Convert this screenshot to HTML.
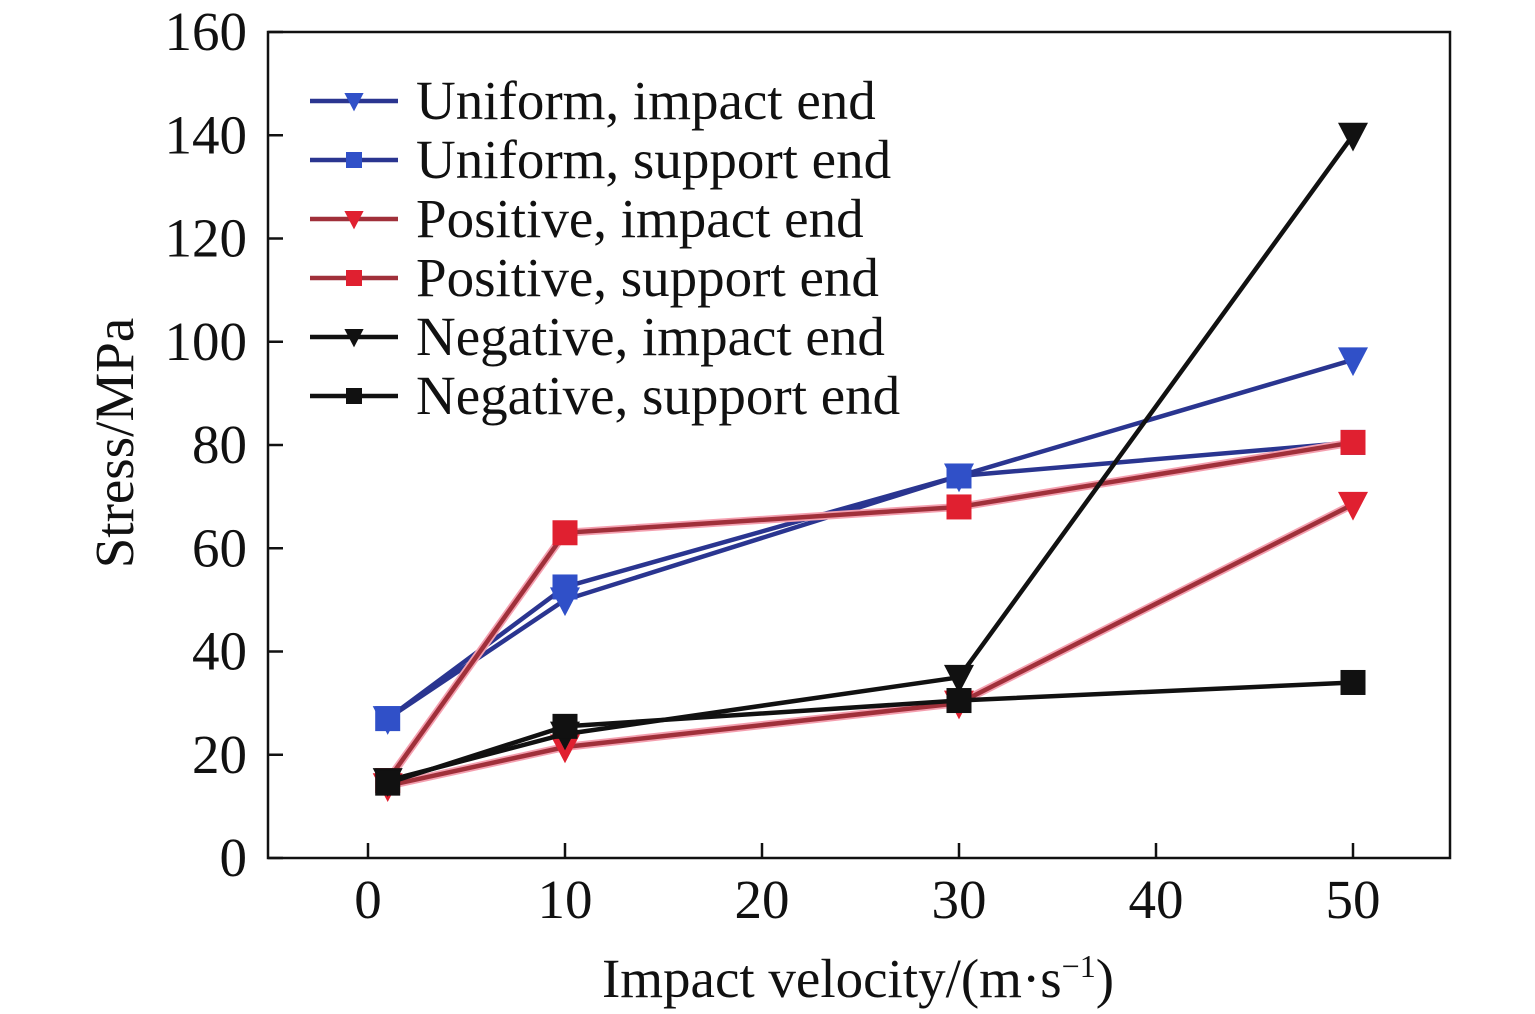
<!DOCTYPE html>
<html><head><meta charset="utf-8"><style>
html,body{margin:0;padding:0;background:#fff;}
svg{display:block;font-family:"Liberation Serif",serif;}
</style></head><body>
<svg id="chart" width="1535" height="1014" viewBox="0 0 1535 1014" xmlns="http://www.w3.org/2000/svg">
<g id="axes"></g><g id="series"></g><g id="legend"></g>
</svg>
<script>
const xCats = [1, 10, 30, 50];
const uniformImpact = [27, 50, 74, 96.5];
const uniformSupport = [27, 52.5, 74, 80.5];
const positiveImpact = [14, 21.5, 30, 68.5];
const positiveSupport = [15, 63, 68, 80.5];
const negativeImpact = [15, 24, 35, 140];
const negativeSupport = [14.5, 25.5, 30.5, 34];
const xTicks = [0, 10, 20, 30, 40, 50];
const yTicks = [0, 20, 40, 60, 80, 100, 120, 140, 160];
const seriesNames = ["Uniform, impact end","Uniform, support end","Positive, impact end","Positive, support end","Negative, impact end","Negative, support end"];

const L=268,R=1450,T=32,B=858;
const xS=v=>368+v*19.7;
const yS=v=>B-(v/160)*(B-T);
const NS="http://www.w3.org/2000/svg";
function mk(tag,attrs,parent){const e=document.createElementNS(NS,tag);for(const k in attrs)e.setAttribute(k,attrs[k]);parent.appendChild(e);return e;}
const axes=document.getElementById('axes');
let frame=mk('rect',{x:L,y:T,width:R-L,height:B-T,fill:'none',stroke:'#111','stroke-width':2.5},axes);


xTicks.forEach(v=>{
  const t=mk('line',{x1:xS(v),x2:xS(v),y1:B,y2:B-15,stroke:'#111','stroke-width':2.5},axes);
  
  
  const tx=mk('text',{x:xS(v),y:918,'font-size':55,'text-anchor':'middle',fill:'#111'},axes);
  tx.textContent=v;
  
  
});
yTicks.forEach(v=>{
  const t=mk('line',{x1:L,x2:L+15,y1:yS(v),y2:yS(v),stroke:'#111','stroke-width':2.5},axes);
  
  
  const tx=mk('text',{x:247,y:yS(v)+18,'font-size':55,'text-anchor':'end',fill:'#111'},axes);
  tx.textContent=v;
  
  
});
const xt=mk('text',{x:858,y:997,'font-size':55,'text-anchor':'middle',fill:'#111'},axes);
xt.innerHTML='Impact velocity/(m·s<tspan dy="-20" font-size="32">−1</tspan><tspan dy="20">)</tspan>';


const yt=mk('text',{x:0,y:0,'font-size':55,'text-anchor':'middle',fill:'#111',transform:'translate(133,443) rotate(-90)'},axes);
yt.textContent='Stress/MPa';



const styles=[
 {d:uniformImpact,line:'#2a3590',mark:'#3050c8',m:'tri',glow:null},
 {d:uniformSupport,line:'#2a3590',mark:'#3050c8',m:'sq',glow:null},
 {d:positiveImpact,line:'#a0303a',mark:'#e02030',m:'tri',glow:'#f4a0b0'},
 {d:positiveSupport,line:'#a0303a',mark:'#e02030',m:'sq',glow:'#f4a0b0'},
 {d:negativeImpact,line:'#111',mark:'#111',m:'tri',glow:null},
 {d:negativeSupport,line:'#111',mark:'#111',m:'sq',glow:null}];
const sg=document.getElementById('series');
function marker(type,x,y,c,s,parent){
  let e;
  if(type==='sq') e=mk('rect',{x:x-s,y:y-s,width:2*s,height:2*s,fill:c},parent);
  else e=mk('polygon',{points:`${x-s*1.2},${y-s} ${x+s*1.2},${y-s} ${x},${y+s*1.3}`,fill:c},parent);
  return e;
}
styles.forEach((s,i)=>{
  const g=mk('g',{},sg);
  
  
  const pts=s.d.map((v,j)=>xS(xCats[j])+','+yS(v)).join(' ');
  if(s.glow){const gl=mk('polyline',{points:pts,fill:'none',stroke:s.glow,'stroke-width':8},g);}
  const pl=mk('polyline',{points:pts,fill:'none',stroke:s.line,'stroke-width':4.5},g);
  
  
  s.d.forEach((v,j)=>{
    const m=marker(s.m,xS(xCats[j]),yS(v),s.mark,12.5,g);
    
    
  });
});
const lg=document.getElementById('legend');
styles.forEach((s,i)=>{
  const y=101+i*59;
  const g=mk('g',{},lg);
  
  
  mk('line',{x1:310,x2:398,y1:y,y2:y,stroke:s.line,'stroke-width':4.5},g);
  marker(s.m,354,y,s.mark,8,g);
  const t=mk('text',{x:416,y:y+18,'font-size':55,fill:'#111'},g);
  t.textContent=seriesNames[i];
});
</script>
</body></html>
